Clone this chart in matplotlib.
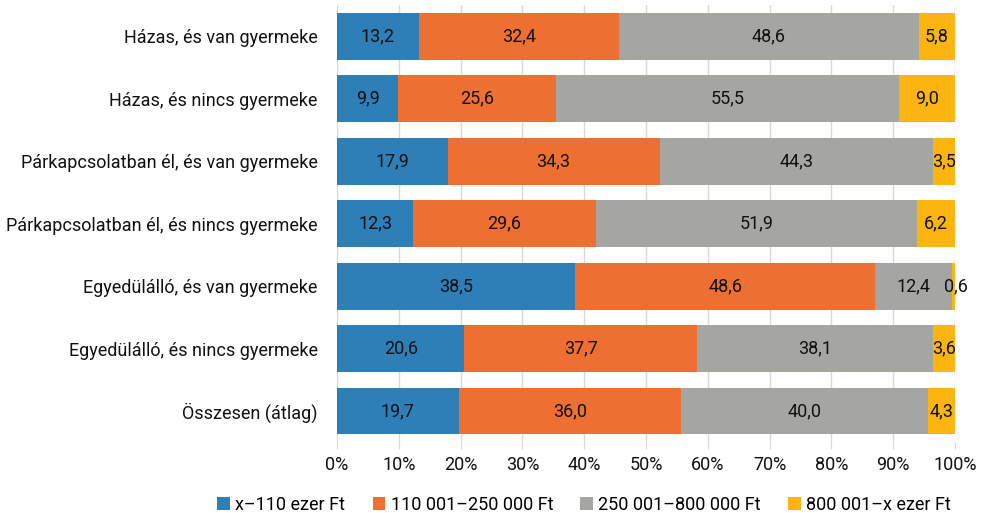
import matplotlib
matplotlib.use("Agg")
import matplotlib.pyplot as plt
import numpy as np

plt.rcParams['font.family'] = ['Roboto', 'DejaVu Sans']

categories = ["Házas, és van gyermeke",
              "Házas, és nincs gyermeke",
              "Párkapcsolatban él, és van gyermeke",
              "Párkapcsolatban él, és nincs gyermeke",
              "Egyedülálló, és van gyermeke",
              "Egyedülálló, és nincs gyermeke",
              "Összesen (átlag)"]
series_names = ["x\u2013110 ezer Ft", "110 001\u2013250 000 Ft",
                "250 001\u2013800 000 Ft", "800 001\u2013x ezer Ft"]
s1 = [13.2, 9.9, 17.9, 12.3, 38.5, 20.6, 19.7]
s2 = [32.4, 25.6, 34.3, 29.6, 48.6, 37.7, 36.0]
s3 = [48.6, 55.5, 44.3, 51.9, 12.4, 38.1, 40.0]
s4 = [5.8, 9.0, 3.5, 6.2, 0.6, 3.6, 4.3]
colors = ["#2E7EB8", "#ED6F32", "#A5A5A2", "#FBB410"]

fig = plt.figure(figsize=(9.9, 5.13), dpi=100)
ax = fig.add_axes([0.3404, 0.138, 0.6242, 0.852])

y = np.arange(len(categories))
left = np.zeros(len(categories))
for vals, name, col in zip([s1, s2, s3, s4], series_names, colors):
    vals = np.array(vals)
    ax.barh(y, vals, left=left, height=0.75, color=col, label=name, zorder=3)
    for i, v in enumerate(vals):
        txt = f"{v:.1f}".replace(".", ",")
        x = left[i] + v / 2
        if v < 1:
            x = left[i] + v / 2 + 0.3
        ax.text(x, y[i], txt, ha="center", va="center", fontsize=13,
                color="#111111", zorder=4)
    left += vals

ax.set_xlim(0, 100)
ax.set_ylim(len(categories) - 0.5, -0.5)
ax.set_yticks(y)
ax.set_yticklabels(categories, fontsize=13, color="#111111")
ax.set_xticks(np.arange(0, 101, 10))
ax.set_xticklabels([f"{v}%" for v in range(0, 101, 10)], fontsize=13, color="#111111")
ax.xaxis.grid(True, color="#D9D9D9", lw=1, zorder=0)
ax.tick_params(axis="y", length=0, pad=14)
ax.tick_params(axis="x", length=5, color="#D9D9D9", pad=5)
for s in ax.spines.values():
    s.set_visible(False)

ax.legend(loc="upper center", bbox_to_anchor=(0.40, -0.085), ncol=4, frameon=False,
          fontsize=13, handlelength=0.7, handleheight=0.7, handletextpad=0.3,
          columnspacing=1.5)

fig.savefig("out.png", dpi=100)
